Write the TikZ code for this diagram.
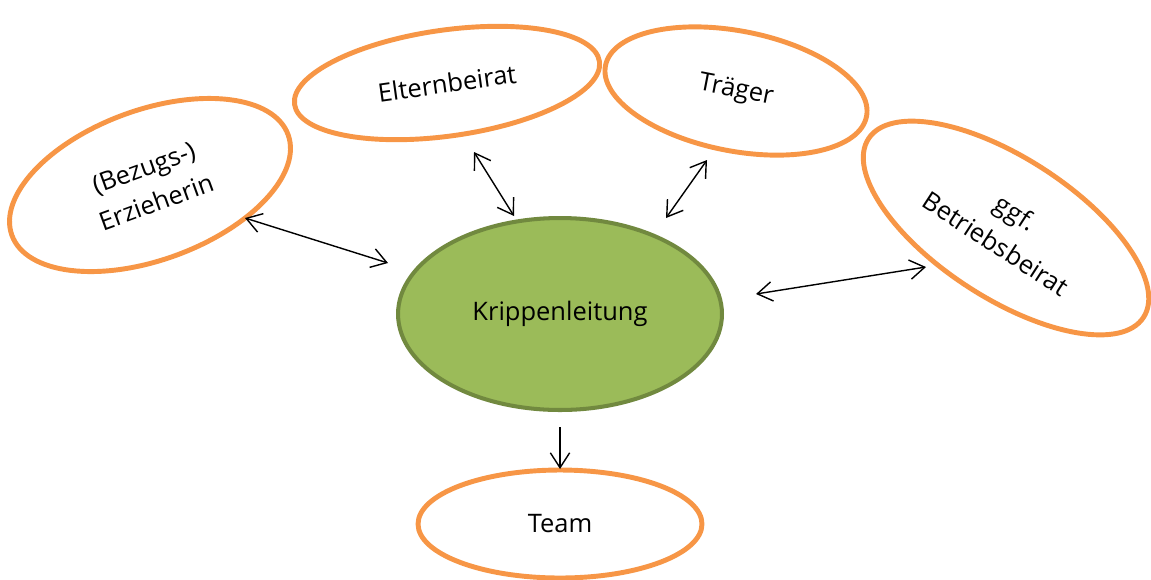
\documentclass[tikz,border=0pt]{standalone}
\usepackage{fontspec}
\setmainfont{Open Sans}
\usetikzlibrary{shapes.geometric,arrows.meta}
\definecolor{orng}{HTML}{F79646}
\definecolor{grnfill}{HTML}{9BBB59}
\definecolor{grnline}{HTML}{71893F}
\tikzset{
  party/.style={ellipse, draw=orng, line width=2.8pt, fill=white, inner sep=0pt, align=center, font=\fontsize{14.5}{21}\selectfont},
  lead/.style={ellipse, draw=grnline, line width=2.3pt, fill=grnfill, inner sep=0pt, align=center, font=\fontsize{14.5}{21}\selectfont},
  link/.style={line width=0.8pt, draw=black},
  >={Straight Barb[length=8.5pt,width=11pt,line width=0.8pt]}
}
\begin{document}
\begin{tikzpicture}[x=0.02cm,y=-0.02cm]
\useasboundingbox (0,0) rectangle (1151,579);
\node[lead, minimum width=6.48cm, minimum height=3.84cm] (kl) at (560,314) {Krippenleitung};
\node[party, minimum width=5.68cm, minimum height=2.16cm] (team) at (560,524) {Team};
\node[party, rotate=8, minimum width=6.16cm, minimum height=2.12cm] (eb) at (447,83) {Elternbeirat};
\node[party, rotate=-11, minimum width=5.32cm, minimum height=2.40cm] (tr) at (736,91) {Träger};
\node[party, rotate=20, minimum width=5.88cm, minimum height=3.00cm] (er) at (150,185) {(Bezugs-)\\Erzieherin};
\node[party, rotate=-33, minimum width=6.56cm, minimum height=2.80cm] (bb) at (1006,228) {ggf.\\Betriebsbeirat};
\coordinate (a1) at (245,218); \coordinate (a2) at (388,263);
\coordinate (b1) at (474,152); \coordinate (b2) at (514,216);
\coordinate (c1) at (707,160); \coordinate (c2) at (666,218);
\coordinate (d1) at (756,294); \coordinate (d2) at (926,267);
\coordinate (e1) at (560,427); \coordinate (e2) at (560,469);
\draw[link,<->] (a1) -- (a2);
\draw[link,<->] (b1) -- (b2);
\draw[link,<->] (c1) -- (c2);
\draw[link,<->] (d1) -- (d2);
\draw[link,->] (e1) -- (e2);
\end{tikzpicture}
\end{document}
